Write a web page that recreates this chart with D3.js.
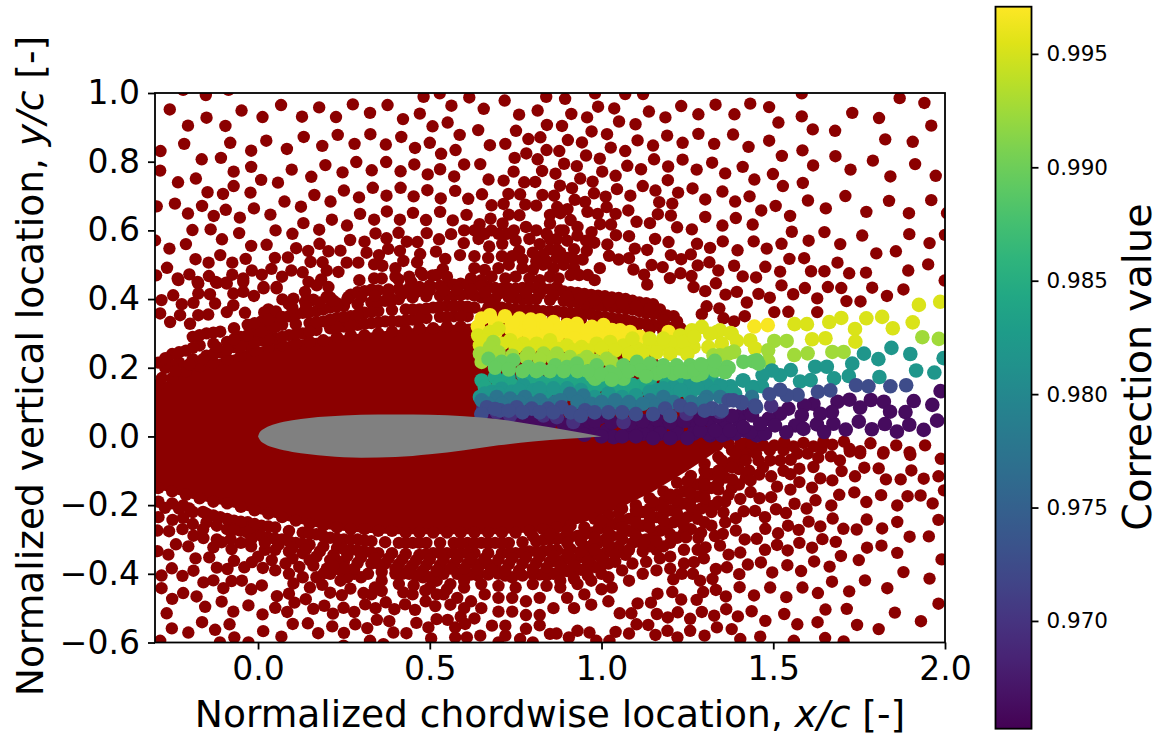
<!DOCTYPE html>
<html>
<head>
<meta charset="utf-8">
<title>Correction value around an airfoil</title>
<script src="https://d3js.org/d3.v7.min.js"></script>
<style>
body { margin: 0; background: #fff; }
text { font-family: "DejaVu Sans", sans-serif; fill: #000; }
.tick line, .domain { stroke: #000; stroke-width: 1.8px; }
</style>
</head>
<body>
<svg id="chart" width="1158" height="736"></svg>
<script>
const xTicks = [0, 0.5, 1, 1.5, 2];
const yTicks = [-0.6, -0.4, -0.2, 0, 0.2, 0.4, 0.6, 0.8, 1];
const barTicks = [0.97, 0.975, 0.98, 0.985, 0.99, 0.995];
const barDomain = [0.96525, 0.99708];

const farUpperLeft = [[-.218,1.009],[-.152,.994],[-.086,1.009],[-.257,.952],[-.150,.928],[-.204,.905],[-.095,.904],[-.048,.949],[.013,.930],[.067,.965],[.128,.931],[.178,.958],[.227,.930],[.276,.967],[.326,.942],[.377,.965],[.422,.924],[.471,.940],[.482,.989],[.529,.999],[.563,.963],[.615,.987],[.657,.954],[.718,.978],[.760,.937],[.814,.949],[.839,.989],[.508,.903],[.552,.914],[.587,.878],[.641,.892],[.751,.890],[.787,.866],[.822,.871],[.841,.907],[-.284,.831],[-.215,.852],[-.081,.855],[-.020,.832],[.024,.861],[.084,.837],[.133,.872],[.187,.846],[.232,.878],[.281,.852],[.327,.880],[.372,.850],[.417,.872],[.457,.840],[.500,.855],[.533,.823],[.575,.834],[.675,.848],[.720,.852],[.840,.834],[.747,.811],[.781,.824],[.814,.807],[-.285,.774],[-.164,.807],[-.108,.811],[-.071,.771],[-.020,.785],[.098,.777],[.155,.756],[.196,.790],[.246,.769],[.286,.799],[.331,.775],[.373,.799],[.415,.772],[.455,.792],[.494,.763],[.530,.778],[.571,.757],[.600,.792],[.647,.793],[.744,.771],[.827,.773],[-.233,.740],[-.181,.751],[-.147,.711],[-.102,.706],[-.071,.729],[-.022,.710],[.009,.747],[.058,.739],[.164,.703],[.211,.684],[.250,.716],[.294,.696],[.334,.724],[.374,.701],[.415,.724],[.453,.699],[.493,.717],[.532,.693],[.574,.715],[.612,.692],[.652,.705],[.671,.748],[.715,.745],[.775,.740],[.807,.741],[.729,.706],[.763,.705],[.828,.703],[-.295,.670],[-.242,.678],[-.204,.649],[-.163,.671],[-.129,.642],[-.094,.660],[-.053,.637],[-.012,.664],[.036,.646],[.077,.684],[.125,.669],[.297,.648],[.338,.631],[.375,.655],[.413,.631],[.451,.651],[.489,.630],[.530,.654],[.567,.629],[.607,.645],[.680,.673],[.715,.677],[.778,.675],[.810,.672],[.730,.646],[.761,.644],[.677,.634],[.645,.618],[.712,.620],[-.191,.601],[-.138,.603],[-.105,.574],[-.055,.592],[.051,.600],[.100,.590],[.132,.621],[.178,.602],[.215,.631],[.259,.614],[.342,.591],[.409,.593],[.374,.577],[.491,.592],[.562,.589],[.527,.574],[.433,.567],[.464,.566],[.268,.572],[.310,.567],[.179,.561],[.111,.548],[.025,.558],[-.020,.555],[-.210,.560],[-.258,.547],[-.300,.571],[.599,.563],[.642,.575],[.673,.553],[.711,.561],[.724,.590],[-.182,.516],[-.144,.506],[-.110,.528],[-.075,.506],[-.036,.517],[.049,.520],[.087,.521],[.146,.540],[.205,.539],[.240,.541],[.316,.535],[.379,.546],[.413,.540],[.352,.528],[.518,.538],[.472,.531],[.545,.517],[.588,.528],[-.265,.491],[-.200,.472],[-.234,.460],[-.143,.467],[-.075,.471],[-.018,.483],[.039,.488],[.011,.471],[-.043,.460],[.097,.483],[.130,.478],[.070,.465],[.153,.508],[.188,.507],[.200,.483],[.234,.479],[.258,.506],[.292,.506],[.338,.501],[.362,.497],[.400,.490],[.423,.511],[.463,.507],[.474,.477],[.508,.469],[.538,.487],[-.297,.469],[-.176,.450],[-.123,.450],[-.093,.448],[.016,.435],[.054,.435],[.147,.450],[.184,.457],[.295,.455],[.338,.460],[.409,.457],[.446,.450]];

const farUpperRight = [[.894,.983],[.981,.999],[1.069,.997],[1.121,.997],[1.583,.999],[1.868,.985],[1.940,.971],[.990,.960],[1.037,.955],[.912,.939],[.958,.929],[1.138,.946],[1.232,.962],[1.186,.929],[1.282,.938],[1.332,.966],[1.387,.938],[1.433,.969],[1.488,.959],[1.515,.914],[1.583,.932],[1.730,.942],[1.808,.927],[1.051,.917],[1.099,.909],[.885,.904],[.971,.888],[1.016,.880],[1.191,.876],[1.282,.881],[1.383,.879],[1.615,.894],[1.680,.890],[1.960,.905],[.902,.863],[.943,.856],[1.105,.862],[1.150,.847],[1.236,.855],[1.328,.852],[1.428,.843],[1.488,.861],[1.826,.865],[1.906,.858],[.877,.831],[1.027,.841],[1.069,.831],[.955,.818],[.995,.809],[1.153,.807],[1.236,.806],[1.525,.817],[1.585,.833],[1.681,.816],[1.790,.803],[.891,.794],[.928,.787],[1.075,.788],[1.115,.778],[1.194,.786],[1.277,.777],[1.322,.797],[1.411,.785],[1.360,.766],[1.499,.764],[1.616,.789],[1.725,.777],[1.913,.793],[.866,.765],[1.002,.771],[1.041,.759],[.938,.751],[.974,.742],[1.193,.746],[1.445,.748],[1.841,.757],[1.973,.759],[.879,.730],[.914,.723],[1.120,.729],[1.045,.720],[1.157,.716],[1.265,.722],[1.223,.710],[1.352,.713],[1.528,.729],[1.586,.738],[.978,.708],[.862,.701],[1.012,.698],[1.084,.701],[1.431,.699],[1.389,.684],[1.302,.690],[1.710,.700],[1.601,.687],[1.837,.686],[1.960,.688],[.922,.689],[.952,.683],[1.168,.682],[1.206,.678],[.871,.668],[.901,.662],[1.015,.668],[1.078,.658],[1.465,.658],[1.507,.671],[1.653,.664],[1.771,.654],[1.895,.650],[2.006,.650],[1.164,.647],[1.202,.643],[1.041,.648],[1.302,.639],[1.391,.636],[1.549,.642],[.959,.654],[.989,.648],[1.102,.625],[1.141,.621],[1.028,.617],[.996,.618],[1.352,.614],[1.440,.617],[1.220,.609],[1.263,.603],[1.554,.596],[1.649,.595],[1.759,.585],[1.896,.589],[2.000,.587],[1.042,.586],[1.080,.583],[.971,.595],[1.156,.575],[1.195,.566],[1.278,.561],[1.353,.568],[1.443,.568],[1.524,.561],[1.603,.570],[1.695,.560],[1.955,.563],[.979,.564],[1.017,.559],[1.097,.547],[1.133,.543],[1.316,.549],[1.396,.542],[1.481,.547],[1.800,.533],[1.857,.539],[.957,.540],[1.202,.528],[1.260,.530],[1.232,.516],[1.022,.526],[1.050,.515],[1.080,.519],[1.314,.507],[1.547,.517],[1.590,.519],[1.687,.506],[1.951,.501],[1.146,.499],[1.178,.493],[1.280,.498],[1.386,.497],[1.477,.494],[1.610,.481],[1.649,.481],[1.520,.480],[1.721,.475],[1.770,.477],[1.893,.483],[1.093,.486],[1.340,.483],[1.411,.466],[1.450,.463],[1.124,.471],[1.199,.461],[1.230,.475],[1.262,.467],[1.999,.454],[1.133,.442],[1.268,.435],[1.333,.446],[1.524,.440],[1.592,.432],[1.659,.435],[1.698,.432],[1.788,.433],[1.879,.428],
[1.302,.423],[1.361,.413],[1.394,.421],[1.423,.390],[1.457,.415],[1.490,.404],[1.558,.414],[1.628,.402],[1.713,.394],[1.754,.393],[1.831,.409],[1.306,.379],[1.343,.373],[1.355,.344],[1.386,.335],[1.417,.350],[1.503,.362],[1.544,.363],[1.628,.362],[1.292,.356]];

// estimated: these merge into each other, so only their rough spacing can be read
const bandUpper = [[-.29,.15],[-.25,.17],[-.21,.19],[-.17,.205],[-.13,.215],[-.09,.225],[-.05,.235],[-.01,.25],[.03,.26],[.07,.265],[.11,.27],[.15,.275],[.19,.28],[.23,.29],[.27,.295],[.31,.295],[.35,.3],[.39,.305],[.43,.31],[.47,.315],[.51,.315],[.55,.32],[.59,.32],
[-.27,.2],[-.23,.215],[-.15,.235],[-.11,.245],[-.07,.26],[-.03,.265],[.01,.28],[.05,.285],[.09,.295],[.13,.3],[.17,.31],[.25,.32],[.29,.325],[.33,.33],[.37,.335],[.41,.335],[.45,.34],[.49,.345],[.57,.35],[.61,.35],
[-.29,.215],[-.25,.24],[-.21,.25],[-.17,.265],[-.09,.275],[-.05,.29],[-.01,.3],[.03,.31],[.07,.325],[.15,.33],[.19,.335],[.23,.345],[.27,.35],[.31,.36],[.35,.365],[.43,.37],[.47,.37],[.51,.375],[.55,.38],[.59,.38],[.63,.375],
[-.19,.29],[-.15,.3],[-.11,.305],[-.03,.325],[.01,.335],[.05,.345],[.09,.35],[.13,.36],[.17,.365],[.21,.375],[.25,.38],[.33,.39],[.37,.395],[.41,.4],[.45,.405],[.53,.41],[.57,.41],[.61,.415],[.65,.405],[.69,.4],
[.67,.375],[.71,.375],[.75,.37],[.79,.37],[.83,.365],[.87,.365],[.91,.36],[.95,.36],[.99,.35],[1.03,.345],[1.07,.34],[1.11,.33],[1.15,.325],[1.19,.32],[1.23,.315],[.73,.405],[.77,.4],[.81,.4],[.89,.395],[.93,.39],[.97,.385],[1.01,.38],[1.05,.375],[1.09,.37],[1.13,.36],[1.17,.355],[1.21,.35],[.71,.43],[.75,.43],[.79,.435],[.83,.43],[.87,.425],[.91,.42],[.95,.415],[.99,.41],[1.03,.405],[1.07,.4],[1.11,.39],[1.15,.385],[.67,.435],[.63,.44],[.59,.445],[.55,.44],[.47,.435],[.41,.43],[.35,.425],[.29,.42],[.21,.405],[.15,.395],[.09,.385],[.03,.37],
[-.232,.455],[-.174,.445],[-.120,.447],[-.091,.445],[-.043,.450],[.016,.431],[.054,.431],[.137,.421],[.171,.440],[.205,.435],[-.247,.411],[-.281,.397],[-.222,.385],[-.188,.389],[-.174,.416],[-.140,.414],[-.125,.387],[-.072,.416],[-.043,.421],[-.012,.409],[.071,.399],[.103,.401],[.137,.392],[.161,.398],[.200,.406],[.231,.387],[.263,.406],[-.285,.358],[-.256,.333],[-.198,.328],[-.227,.353],[-.174,.353],[-.145,.355],[-.091,.362],[-.038,.360],[-.072,.382],[.018,.361],[.052,.364],[.103,.353],[.142,.362],
[.85,.62],[.88,.6],[.91,.63],[.87,.575],[.9,.57],[.93,.585],[.85,.545],[.88,.535],[.92,.545],[.955,.57],[.86,.49],[.89,.5],[.92,.49],[.945,.515],[.85,.465],[.875,.46],[.91,.47],[.935,.47],[.96,.47],[.98,.455],[.995,.49],[.87,.435],
[.63,.49],[.66,.485],[.70,.49],[.73,.5],[.77,.49],[.80,.485],[.83,.5],[.62,.46],[.65,.455],[.68,.465],[.72,.46],[.75,.465],[.79,.46],[.82,.455],[.55,.465],[.52,.47],[.48,.47],[.44,.465],[.40,.465],[.36,.46]];

const bandUpperFill = [[-.19,.225],[.21,.315],[.53,.348],[-.25,.207],[-.13,.24],[-.09,.252],[-.05,.262],[-.01,.272],[.03,.283],[.07,.29],[.11,.298],[.15,.305],[.23,.318],[.27,.322],[.31,.328],[.35,.332],[.39,.335],[.43,.338],[.47,.343],[.55,.348],[.59,.35],
[-.27,.228],[-.23,.245],[-.19,.258],[-.13,.27],[-.07,.283],[-.03,.295],[.01,.305],[.05,.318],[.11,.327],[.17,.333],[.21,.34],[.25,.348],[.29,.355],[.33,.362],[.39,.368],[.45,.37],[.49,.372],[.53,.378],[.57,.38],[.61,.378],
[-.17,.295],[-.13,.302],[-.07,.315],[-.01,.33],[.03,.34],[.07,.348],[.11,.355],[.15,.362],[.19,.37],[.23,.378],[.29,.385],[.35,.392],[.39,.398],[.49,.408],[.55,.41],[.59,.412],[.63,.41],[.67,.402],
[.27,.413],[.31,.423],[.33,.427],[.38,.428],[.44,.432],[.5,.44],[.53,.438],[.57,.442],[.61,.442],[.65,.438],[.69,.432],[.73,.43],[.77,.432],[.81,.432],[.85,.428],[.89,.422],[.93,.418],[.97,.412],[1.01,.408],[1.05,.403],[1.09,.395],[1.13,.388],[1.17,.37],
[.69,.375],[.73,.372],[.77,.37],[.81,.368],[.85,.365],[.89,.362],[.93,.36],[.97,.355],[1.01,.348],[1.05,.342],[1.09,.335],[1.13,.328],[1.17,.322],[1.21,.318],[.75,.402],[.79,.4],[.85,.398],[.91,.392],[.95,.388],[.99,.382],[1.03,.378],[1.07,.372],[1.11,.365],[1.15,.358],[1.19,.352],
[.66,.36],[.7,.355],[.74,.35],[.78,.35],[.82,.345],[.86,.345],[.9,.34],[.94,.34],[.98,.335],[1.02,.33],[1.06,.325],[1.1,.315],[1.14,.31],[1.18,.305],
[.745,.6],[.78,.61],[.81,.6],[.84,.59],[.75,.57],[.79,.575],[.82,.56],[.85,.575],[.76,.54],[.8,.535],[.83,.53],[.74,.525],[.71,.525],[.67,.52],[.63,.525],[.7,.59],[.68,.6],[.66,.59],[.63,.6],[.6,.6],[.77,.515],[.84,.51],[.81,.51],[.87,.52],[.9,.52],[.92,.515],[.87,.545],[.89,.6],[.93,.61],[.85,.645],[.88,.65],
[.1,.375],[.14,.38],[.18,.39],[.22,.395],[.26,.4],[.3,.405],[.34,.41],[.38,.415],[.42,.415],[.46,.42],[.5,.425],[.54,.425],[.58,.428],[.62,.428],[.66,.42],[.7,.415],[.74,.418],[.78,.418],[.82,.415],[.86,.41],[.9,.408],[.94,.402],[.98,.398],[1.02,.392],[1.06,.388],[1.1,.38],[1.14,.372],[1.18,.338],[1.22,.335],[1.26,.3],[1.22,.3],
[-.28,.17],[-.24,.19],[-.2,.21],[-.16,.225],[-.12,.26]];

const bandLower = [[-.29,-.15],[-.25,-.16],[-.21,-.17],[-.17,-.18],[-.13,-.19],[-.09,-.195],[-.05,-.205],[-.01,-.215],[.03,-.225],[.07,-.235],[.11,-.245],[.15,-.255],[.19,-.26],[.23,-.265],[.27,-.27],[.31,-.27],[.35,-.275],[.39,-.275],[.43,-.28],[.47,-.28],[.51,-.28],[.55,-.28],[.59,-.28],[.63,-.28],[.67,-.28],[.71,-.28],[.75,-.28],[.79,-.275],[.83,-.27],[.87,-.265],[.91,-.26],
[-.23,-.21],[-.15,-.225],[-.11,-.235],[-.07,-.245],[-.03,-.25],[.01,-.26],[.05,-.265],[.13,-.28],[.17,-.285],[.21,-.295],[.25,-.3],[.29,-.3],[.33,-.305],[.41,-.31],[.45,-.31],[.49,-.31],[.57,-.31],[.61,-.31],[.65,-.31],[.69,-.31],[.73,-.31],[.81,-.305],[.85,-.3],[.89,-.295],[.93,-.29],[.97,-.28],
[-.09,-.27],[-.05,-.275],[-.01,-.285],[.03,-.295],[.07,-.3],[.11,-.31],[.15,-.315],[.23,-.325],[.27,-.33],[.31,-.335],[.35,-.34],[.39,-.34],[.47,-.345],[.51,-.34],[.55,-.34],[.59,-.34],[.63,-.34],[.71,-.34],[.75,-.34],[.79,-.335],[.83,-.335],[.87,-.33],[.95,-.325],[.99,-.31],[1.03,-.29],
[.05,-.33],[.13,-.34],[.21,-.36],[.25,-.365],[.33,-.37],[.37,-.37],[.45,-.375],[.53,-.375],[.61,-.37],[.65,-.37],[.69,-.375],[.77,-.37],[.85,-.365],[.89,-.36],[.93,-.355],[.97,-.35],[1.01,-.34],[1.05,-.32],
[.6,-.40],[.64,-.405],[.7,-.4],[.74,-.41],[.8,-.4],[.84,-.405],[.88,-.395],[.92,-.39],[.96,-.385],[1.0,-.375],[1.04,-.365],[1.07,-.345],
[.98,-.24],[1.02,-.23],[1.06,-.21],[1.1,-.2],[1.14,-.18],[1.18,-.16],[1.22,-.135],[1.26,-.115],[1.3,-.08],[1.34,-.06],[1.38,-.04],[1.42,-.02],
[1.0,-.265],[1.04,-.255],[1.08,-.24],[1.12,-.22],[1.16,-.2],[1.2,-.18],[1.24,-.16],[1.28,-.14],[1.32,-.11],[1.36,-.09],[1.4,-.06],[1.44,-.035],
[1.06,-.28],[1.1,-.27],[1.14,-.245],[1.18,-.225],[1.22,-.205],[1.26,-.185],[1.3,-.16],[1.34,-.135],[1.09,-.31],[1.13,-.3],[1.17,-.275],[1.21,-.25],[1.25,-.235],[1.29,-.21],[1.12,-.335],[1.16,-.33],[1.2,-.31],[1.24,-.28],
[.88,-.44],[.93,-.43],[.97,-.42],[1.02,-.41],[1.06,-.39],[1.09,-.37],[1.13,-.365],[1.17,-.355],[.9,-.47],[.95,-.46],[1.0,-.445],[1.03,-.44],[1.08,-.42],[1.12,-.4],[1.16,-.39],[.86,-.5],[.92,-.5],[.97,-.49],[1.02,-.48],
[.54,-.46],[.58,-.47],[.62,-.48],[.56,-.43],[.6,-.44],[.66,-.46],[.7,-.47],[.74,-.47],[.78,-.48],[.82,-.47],[.65,-.5],[.7,-.51],[.74,-.51],[.78,-.52],[.82,-.52],[.63,-.53],[.52,-.42],[.48,-.41],[.44,-.4],[.4,-.4],[.36,-.42],[.34,-.44],[.3,-.41],[.28,-.4],[.24,-.42],[.78,-.56],[.82,-.55],[.85,-.575],[.8,-.6]];

const bandLowerFill = [[-.19,-.22],[-.13,-.23],[-.09,-.24],[-.05,-.248],[-.01,-.255],[.03,-.262],[.09,-.275],[.15,-.283],[.19,-.29],[.23,-.298],[.27,-.3],[.31,-.303],[.37,-.308],[.43,-.31],[.47,-.31],[.53,-.31],[.59,-.31],[.63,-.31],[.67,-.31],[.71,-.31],[.77,-.308],[.83,-.302],[.87,-.298],[.91,-.292],[.95,-.285],[.99,-.27],
[-.07,-.272],[-.03,-.28],[.01,-.29],[.05,-.298],[.09,-.305],[.13,-.312],[.19,-.32],[.25,-.328],[.29,-.332],[.33,-.338],[.43,-.342],[.49,-.342],[.53,-.34],[.57,-.34],[.61,-.34],[.67,-.34],[.73,-.34],[.77,-.338],[.81,-.335],[.85,-.332],[.91,-.328],[.97,-.318],[1.01,-.3],
[.09,-.335],[.17,-.35],[.23,-.362],[.29,-.368],[.35,-.37],[.41,-.372],[.49,-.375],[.57,-.372],[.63,-.37],[.67,-.372],[.73,-.372],[.81,-.368],[.87,-.362],[.91,-.358],[.95,-.352],[.99,-.345],[1.03,-.33],
[.32,-.40],[.36,-.395],[.42,-.4],[.46,-.405],[.5,-.41],[.54,-.4],[.58,-.4],[.62,-.402],[.67,-.402],[.72,-.405],[.77,-.405],[.82,-.402],[.86,-.4],[.9,-.392],[.94,-.388],[.98,-.38],[1.02,-.37],
[1.02,-.26],[1.06,-.25],[1.1,-.23],[1.14,-.21],[1.18,-.19],[1.22,-.17],[1.26,-.15],[1.3,-.125],[1.34,-.1],[1.38,-.075],[1.42,-.05],[1.08,-.275],[1.12,-.26],[1.16,-.235],[1.2,-.215],[1.24,-.195],[1.28,-.175],[1.32,-.15],[1.36,-.12],[1.4,-.095],[1.11,-.3],[1.15,-.29],[1.19,-.265],[1.23,-.24],[1.27,-.225],[1.31,-.2],[1.14,-.32],[1.18,-.32],[1.22,-.295],[1.26,-.27],[1.3,-.25],[1.34,-.19],[1.38,-.15],[1.42,-.12],
[1.39,-.07],[1.43,-.1],[1.4,-.14],[1.37,-.17],[1.33,-.2],[1.36,-.25],[1.32,-.26],[1.29,-.28],[1.33,-.29],[1.28,-.33],[1.24,-.33],[1.2,-.35],[1.24,-.37],[1.2,-.385],[1.45,-.05],[1.49,-.04],[1.53,-.04],[1.57,-.05],[1.6,-.05],[1.64,-.035],[1.41,-.05],[1.47,-.09],[1.53,-.1],[1.55,-.11],
[-.29,-.19],[-.25,-.195],[-.2,-.21],[-.16,-.22],[-.12,-.26],[-.15,-.25],[-.19,-.255],[-.22,-.27],[-.29,-.235],[-.16,-.27],[-.12,-.3],[-.08,-.3],[-.05,-.31],[-.02,-.32],[.02,-.33],[0,-.35],[.04,-.36],[.08,-.37],[.12,-.38],[.1,-.355],[.15,-.36],[.05,-.39],[.09,-.4],[.13,-.41],[.17,-.41],[.21,-.4],[.26,-.41],[.33,-.46],[.36,-.45],[.41,-.43],[.45,-.46],[.5,-.44],[.52,-.46],[.56,-.49],[.6,-.5],[.59,-.525],
[.9,-.31],[.94,-.305],[.98,-.295],[1.02,-.28],[1.06,-.265],[1.1,-.25],[1.14,-.228],[1.18,-.205],[1.22,-.185],[1.26,-.165],[1.3,-.14],[1.34,-.115],[1.38,-.09],[1.42,-.07],[.9,-.34],[.94,-.335],[.98,-.33],[1.02,-.315],[1.06,-.3],[1.1,-.29],[1.14,-.265],[1.18,-.245],[1.22,-.225],[1.26,-.205],[1.3,-.18],[1.34,-.155],[1.38,-.125],[.92,-.375],[.96,-.365],[1.0,-.355],[1.04,-.345],[1.08,-.33],[1.12,-.315],[1.16,-.305],[1.2,-.285],[1.24,-.26],[1.28,-.24],[1.32,-.22],[1.36,-.19],[.8,-.29],[.85,-.285],[.9,-.275],[.95,-.265],[1.0,-.245],[1.05,-.225],[1.1,-.215],[1.15,-.19],[1.2,-.17],[1.25,-.13],[1.3,-.1],[1.35,-.07],[1.39,-.05],
[-.02,-.3],[.02,-.31],[.06,-.315],[.1,-.325],[.14,-.328],[.18,-.335],[.22,-.345],[.26,-.348],[.3,-.352],[.34,-.355],[.38,-.355],[.42,-.358],[.46,-.36],[.5,-.358],[.54,-.358],[.58,-.355],[.62,-.355],[.66,-.355],[.7,-.358],[.74,-.355],[.78,-.353],[.82,-.35],[.86,-.348],[.2,-.385],[.24,-.39],[.28,-.385],[.4,-.385],[.44,-.388],[.48,-.39],[.52,-.39],[.56,-.385],[.6,-.385],[.64,-.388],[.68,-.388],[.72,-.39],[.76,-.39],[.8,-.385],[.84,-.382],[.88,-.378],[.55,-.445],[.6,-.42],[.65,-.43],[.7,-.435],[.75,-.44],[.8,-.43],[.84,-.435],[.88,-.42],[.92,-.415],[.96,-.405],[1.0,-.4]];

const farLowerLeft = [[-.285,-.595],[-.251,-.559],[-.203,-.571],[-.266,-.515],[-.154,-.496],[-.179,-.466],[-.218,-.456],[-.250,-.473],[-.281,-.442],[-.220,-.406],[-.188,-.391],[-.251,-.384],[-.261,-.344],[-.281,-.405],[-.239,-.314],[-.203,-.320],[-.293,-.334],[-.182,-.355],[-.142,-.352],[-.120,-.382],[-.089,-.386],[-.159,-.425],[-.130,-.419],[-.101,-.442],[-.077,-.421],[-.047,-.420],[-.106,-.481],[-.072,-.510],[-.028,-.492],[-.020,-.445],[-.163,-.541],[-.125,-.563],[-.083,-.547],[-.111,-.600],[-.069,-.585],[-.028,-.600],[.013,-.518],[.015,-.567],[.050,-.499],[.085,-.511],[.101,-.546],[.145,-.544],[.068,-.583],[.175,-.573],[.106,-.484],[.055,-.465],[.090,-.458],[.139,-.474],[.161,-.502],[.193,-.493],[.218,-.516],[.249,-.499],[.280,-.511],[.216,-.553],[.283,-.547],[.250,-.572],[.318,-.558],[.346,-.534],[.382,-.538],[.394,-.571],[.432,-.573],[.461,-.543],[.457,-.505],[.428,-.489],[.397,-.503],[.342,-.500],[.312,-.489],[.372,-.483],[.307,-.456],[.244,-.462],[.210,-.455],[.151,-.440],[.187,-.432],[.269,-.443],[.103,-.428],[-.040,-.381],[-.070,-.362],[-.018,-.366],[.014,-.383],[.011,-.434],[.192,-.398],[.252,-.383],[.219,-.376],[.161,-.376],[-.271,-.208],[-.218,-.201],[-.249,-.243],[-.218,-.237],[-.259,-.276],[-.293,-.274],[-.188,-.289],[-.159,-.296],[-.130,-.323],[-.106,-.308],[-.077,-.328],[.496,-.556],[.504,-.588],[.520,-.532],[.552,-.534],[.574,-.556],[.574,-.585],[.488,-.480],[.516,-.494],[.603,-.546],[.608,-.585],[.647,-.580],[.681,-.551],[.720,-.551],[.763,-.590],[.720,-.580],[.700,-.600],[.249,-.609],[.326,-.595],[.365,-.605],[.487,-.449],[.453,-.434],[.423,-.454]];

const farLowerRight = [[.869,-.574],[.905,-.585],[.930,-.566],[.965,-.571],[.985,-.595],[1.023,-.595],[1.041,-.569],[1.080,-.574],[1.102,-.547],[1.136,-.549],[1.157,-.578],[1.192,-.566],[1.221,-.585],[1.258,-.566],[1.300,-.580],[1.336,-.556],[1.379,-.561],[1.404,-.590],[1.462,-.583],[1.560,-.595],[1.651,-.587],[1.705,-.597],[1.053,-.515],[1.087,-.515],[1.161,-.517],[1.193,-.527],[1.222,-.512],[1.258,-.531],[1.292,-.511],[1.328,-.522],[1.363,-.503],[1.397,-.524],[1.437,-.509],[1.477,-.537],[1.532,-.517],[1.570,-.547],[1.629,-.541],[1.652,-.504],[1.714,-.502],[1.744,-.549],[1.807,-.561],[1.854,-.513],[1.930,-.538],[1.981,-.487],[1.105,-.486],[1.144,-.484],[1.163,-.458],[1.206,-.453],[1.232,-.475],[1.277,-.476],[1.296,-.453],[1.333,-.447],[1.362,-.466],[1.402,-.439],[1.444,-.463],[1.491,-.440],[1.538,-.468],[1.585,-.440],[1.630,-.456],[1.721,-.451],[1.832,-.442],[1.671,-.423],[1.767,-.419],[1.955,-.414],[1.879,-.395],[1.209,-.416],[1.234,-.400],[1.266,-.400],[1.287,-.420],[1.323,-.415],[1.333,-.386],[1.365,-.381],[1.401,-.401],[1.426,-.373],[1.464,-.367],[1.497,-.396],[1.541,-.375],[1.581,-.392],[1.619,-.364],[1.664,-.379],[1.749,-.360],[1.697,-.348],[1.990,-.358],[1.861,-.339],[1.815,-.318],[1.773,-.324],[1.269,-.366],[1.298,-.355],[1.303,-.323],[1.345,-.318],[1.370,-.344],[1.404,-.338],[1.476,-.330],[1.511,-.316],[1.542,-.332],[1.576,-.310],[1.613,-.324],[1.643,-.299],[1.682,-.307],[1.817,-.268],[1.743,-.271],[1.704,-.269],[1.897,-.292],[1.953,-.291],[1.861,-.249],[1.772,-.242],[1.673,-.239],[1.981,-.243],[1.246,-.294],[1.282,-.296],[1.353,-.284],[1.391,-.274],[1.417,-.300],[1.452,-.298],[1.477,-.269],[1.514,-.282],[1.543,-.260],[1.574,-.272],[1.637,-.262],[1.603,-.248],[1.964,-.195],[1.929,-.172],[1.891,-.174],[1.861,-.201],[1.814,-.171],[1.771,-.191],[1.736,-.163],[1.692,-.170],[1.669,-.201],[1.623,-.186],[1.597,-.210],[1.537,-.223],[1.508,-.212],[1.562,-.196],[1.391,-.238],[1.414,-.218],[1.447,-.217],[1.476,-.235],[1.494,-.177],[1.460,-.180],[1.434,-.162],[1.404,-.182],[1.355,-.221],[1.997,-.157],[1.938,-.123],[1.981,-.116],[1.871,-.125],[1.828,-.125],[1.902,-.099],[1.765,-.091],[1.807,-.093],[1.738,-.116],[1.699,-.101],[1.672,-.128],[1.637,-.122],[1.613,-.149],[1.576,-.133],[1.550,-.155],[1.511,-.146],[1.494,-.116],[1.459,-.111],[1.434,-.128],[1.576,-.094],[1.617,-.089],[1.631,-.062],[1.668,-.058],[1.694,-.070],[1.723,-.044],[1.753,-.049],[1.820,-.050],[1.899,-.054],[1.988,-.065],[1.551,-.068],[1.520,-.070],[1.491,-.070],[1.457,-.070],
[1.297,-.021],[1.336,-.026],[1.370,-.021],[1.404,-.021],[1.438,-.021],[1.471,-.026],[1.503,-.026],[1.532,-.016],[1.559,-.029],[1.588,-.019],[1.617,-.029],[1.646,-.015],[1.672,-.024],[1.706,-.015],[1.722,-.036],[1.753,-.043],[1.783,-.020],[1.821,-.046],[1.858,-.026],[1.897,-.046],[1.942,-.026]];

// the core is so crowded that single points cannot be told apart, so it is kept as an outline
const coreX = [-.3,-.2,-.1,0,.1,.2,.3,.4,.5,.64,.7,.85,.95,1.05,1.15,1.25,1.34,1.4];
const coreTop = [.14,.2,.23,.26,.28,.29,.3,.31,.32,.33,.33,.33,.32,.3,.24,.13,.03,0];
const coreBottom = [-.15,-.18,-.2,-.225,-.25,-.27,-.28,-.285,-.285,-.285,-.285,-.275,-.25,-.21,-.16,-.1,-.04,0];

// corrected points as [x, y, value]
const correctedTop = [[.651,.343],[.675,.353],[.719,.350],[.761,.343],[.794,.340],[.821,.338],[.860,.333],[.899,.324],[.928,.328],[.972,.319],[1.006,.324],[1.054,.309],[1.083,.304],[1.112,.290],[.734,.314],[.772,.314],[.811,.314],[.850,.309],[.899,.304],[.938,.304],[.976,.299],[1.015,.299],[1.195,.304],[1.445,.320],[1.484,.324],[.64,.32],[.69,.33],[.74,.33],[.79,.325],[.84,.32],[.88,.315],[.92,.315],[.96,.31],[1.03,.31],[1.07,.29],[.69,.3],[.75,.295],[.79,.295],[.83,.29],[.87,.29],[.92,.285],[.96,.28],[1.0,.285],[1.04,.285]].map(d => [...d, .9968]);
const correctedYellow = [[.641,.294],[.646,.265],[.675,.304],[.700,.314],[.734,.280],[.772,.270],[.811,.270],[.850,.280],[.899,.265],[.942,.260],[.986,.270],[1.025,.275],[1.064,.265],[1.103,.256],[1.137,.260],[1.171,.265],[1.229,.294],[1.263,.309],[1.292,.319],[1.336,.304],[1.379,.299],[1.229,.256],[1.268,.260],[1.311,.260],[1.433,.280],[1.447,.256],[1.562,.327],[1.598,.327],[1.663,.333],[1.698,.345],[1.771,.344],[1.817,.348],[1.738,.313],[1.848,.315],[1.906,.332],[1.924,.383],[1.986,.392],[1.613,.283],[1.652,.286],[1.739,.276],[1.345,.309],[1.376,.301],[1.316,.299],[1.394,.278],[1.350,.270],[.66,.28],[.71,.27],[.75,.26],[.79,.255],[.83,.26],[.87,.255],[.92,.25],[.96,.25],[1.0,.255],[1.04,.25],[1.08,.24],[1.12,.24],[1.16,.245],[1.2,.275],[1.24,.275],[1.27,.29],[1.2,.24],[1.25,.24],[1.09,.285],[1.14,.285],[1.18,.285]].map(d => [...d, .9953]);
const correctedLime = [[.646,.241],[.651,.217],[.685,.275],[.675,.260],[.787,.241],[.831,.241],[.870,.241],[.908,.231],[.957,.231],[1.015,.226],[1.384,.246],[1.326,.236],[1.503,.278],[1.539,.278],[1.561,.237],[1.600,.242],[1.672,.246],[1.705,.246],[1.934,.289],[1.982,.284],[1.485,.251],[1.486,.219],[1.386,.247],[1.345,.236],[1.370,.241],[.66,.23],[.7,.245],[.74,.235],[.78,.23],[.82,.225],[.86,.225],[.9,.215],[.94,.22],[.98,.22],[1.03,.215]].map(d => [...d, .9925]);
const correctedGreen = [[.671,.226],[.709,.217],[.743,.222],[.787,.202],[.821,.197],[.865,.207],[.899,.202],[.928,.212],[.986,.207],[.972,.178],[1.025,.188],[1.064,.207],[1.103,.217],[1.141,.212],[1.180,.207],[1.219,.207],[1.258,.207],[.981,.168],[1.064,.168],[1.112,.192],[1.161,.183],[1.209,.183],[1.277,.178],[1.316,.207],[1.365,.202],[1.413,.217],[1.452,.222],[1.248,.187],[1.442,.219],[1.370,.200],[1.331,.192],[1.318,.207],[1.292,.183],[1.457,.212],[1.360,.187],[.69,.2],[.73,.195],[.77,.19],[.81,.19],[.85,.19],[.89,.19],[.93,.19],[.96,.19],[1.0,.18],[1.04,.18],[1.08,.19],[1.13,.175],[1.18,.19],[1.23,.19],[1.27,.195],[1.29,.21],[1.33,.22],[1.03,.165]].map(d => [...d, .9895]);
const correctedTeal = [[.651,.163],[.690,.173],[.729,.173],[.772,.178],[.811,.171],[.855,.178],[.894,.183],[.933,.178],[1.117,.149],[1.069,.134],[1.020,.153],[.976,.134],[.933,.149],[.889,.153],[.850,.153],[.66,.145],[.7,.15],[.74,.15],[.79,.155],[.83,.155],[.87,.16],[.91,.165],[.95,.16],[.99,.15],[1.04,.14],[1.09,.15],[1.14,.16],[1.19,.16],[1.23,.165],[1.28,.165],[1.32,.165]].map(d => [...d, .984]);
const correctedSea = [[.646,.115],[.680,.129],[.709,.139],[.772,.149],[.802,.134],[.836,.124],[.879,.124],[1.161,.134],[1.209,.144],[1.258,.153],[1.209,.115],[1.258,.119],[1.307,.134],[1.355,.144],[1.413,.163],[1.442,.144],[1.764,.241],[1.806,.225],[1.844,.258],[1.899,.240],[1.916,.192],[1.969,.186],[1.996,.228],[1.809,.173],[1.730,.212],[1.720,.176],[1.677,.169],[1.622,.203],[1.656,.203],[1.551,.193],[1.520,.178],[1.496,.192],[1.469,.178],[1.578,.160],[1.609,.164],[1.411,.163],[1.467,.146],[1.438,.139],[1.376,.146],[1.345,.149],[1.306,.149],[1.389,.124],[.66,.125],[.7,.125],[.74,.13],[.76,.135],[.82,.14],[.86,.14],[.9,.14],[.94,.135],[.98,.115],[1.02,.125],[1.06,.115],[1.1,.12],[1.14,.13],[1.18,.14],[1.23,.135],[1.28,.14],[1.33,.13],[1.38,.13]].map(d => [...d, .982]);
const correctedBlueTeal = [[.651,.105],[.695,.115],[.734,.110],[.777,.115],[.821,.105],[.865,.100],[.908,.124],[.947,.119],[1.015,.085],[1.054,.090],[1.098,.085],[1.141,.105],[1.180,.115],[1.345,.115],[1.306,.115],[1.438,.115],[1.292,.100],[.67,.095],[.71,.095],[.76,.1],[.8,.095],[.84,.09],[.88,.105],[.93,.1],[.97,.095],[1.0,.1],[1.04,.105],[1.08,.1],[1.12,.095],[1.16,.09],[1.21,.1],[1.26,.1],[1.3,.105]].map(d => [...d, .9775]);
const correctedDark = [[.671,.066],[.787,.051],[.826,.047],[.976,.022],[1.015,.017],[.947,.037],[1.103,.027],[1.141,.027],[1.171,.027],[1.219,.022],[1.268,.037],[1.316,.047],[1.355,.042],[1.404,.061],[1.433,.066],[1.074,.008],[1.035,-.002],[1.122,.008],[1.171,.008],[1.219,.008],[1.268,.008],[1.316,.003],[1.365,.008],[1.413,.017],[1.452,.003],[.996,.056],[1.987,.132],[1.909,.103],[1.963,.092],[1.722,.107],[1.687,.101],[1.784,.106],[1.822,.101],[1.753,.084],[1.840,.072],[1.885,.071],[1.977,.046],[1.749,.043],[1.787,.021],[1.825,.036],[1.860,.014],[1.896,.034],[1.938,.019],[1.711,.020],[1.675,.037],[1.671,.071],[1.627,.035],[1.648,.013],[1.617,.095],[1.590,.090],[1.544,.081],[1.520,.066],[1.583,.061],[1.637,.066],[1.486,.051],[1.438,.061],[1.399,.047],[1.360,.042],[1.316,.047],[1.287,.051],[1.564,.032],[1.538,.012],[1.476,.008],[1.433,.012],[1.389,.008],[1.350,.003],[1.311,.008],[1.505,.032],[1.462,.037],[1.413,.027],[1.374,.017],[1.331,.017],[1.588,.022],[1.287,.017],[.7,.05],[.75,.045],[.8,.04],[.85,.04],[.89,.035],[.93,.02],[.98,.045],[1.03,.04],[1.08,.035],[1.12,.045],[1.16,.05],[1.2,.04],[1.24,.045],[1.29,.05],[1.34,.06],[1.38,.06],[1.0,0],[1.06,0],[1.1,0],[1.15,-.005],[1.2,-.005],[1.25,-.005],[.9,.015],[.95,.005]].map(d => [...d, .9662]);
const correctedPurple = [[.656,.081],[.695,.071],[.734,.061],[.831,.061],[.870,.056],[.918,.042],[1.064,.042],[1.248,.066],[1.494,.089],[1.345,.071]].map(d => [...d, .9695]);
const correctedBlue = [[.666,.085],[.705,.076],[.753,.085],[.797,.081],[.845,.081],[.884,.085],[.952,.076],[1.185,.081],[1.229,.090],[1.321,.081],[1.370,.105],[1.408,.100],[1.447,.090],[1.741,.149],[1.777,.146],[1.841,.146],[1.887,.149],[1.666,.134],[1.630,.130],[1.571,.121],[1.539,.120],[1.520,.136],[1.489,.123],[1.408,.097],[1.384,.105],[1.450,.085],[1.323,.081],[.65,.065],[.69,.08],[.73,.075],[.77,.07],[.82,.07],[.86,.07],[.91,.07],[.94,.06],[.98,.07],[1.02,.07],[1.06,.07],[1.1,.065],[1.15,.065],[1.2,.06],[1.26,.08],[1.3,.075],[1.35,.075]].map(d => [...d, .9725]);

// airfoil surface, x/c against y/c
const foilX = [0,.005,.02,.05,.1,.15,.2,.3,.4,.5,.6,.7,.8,.9,1];
const foilUpper = [0,.012,.024,.036,.047,.054,.058,.063,.064,.063,.059,.05,.035,.018,0];
const foilLower = [0,-.01,-.022,-.034,-.045,-.052,-.057,-.062,-.06,-.052,-.04,-.026,-.015,-.007,0];

const svg = d3.select("#chart");
const xScale = d3.scaleLinear().domain([-0.3, 2]).range([155, 945]);
const yScale = d3.scaleLinear().domain([-0.6, 1]).range([642.5, 93]);
const colorScale = d3.scaleSequential(d3.interpolateViridis).domain(barDomain);
const barScale = d3.scaleLinear().domain(barDomain).range([728.7, 6.7]);
const dotRadius = 6.2;
const coloredRadius = 7.3;

svg.append("clipPath").attr("id", "plotClip").append("rect")
  .attr("x", 155).attr("y", 93).attr("width", 790).attr("height", 549.5);

const plot = svg.append("g").attr("clip-path", "url(#plotClip)");

// dark red core
plot.append("path")
  .datum(coreX.map((x, i) => ({ x, top: coreTop[i], bottom: coreBottom[i] })))
  .attr("fill", "#8b0000")
  .attr("d", d3.area().x(d => xScale(d.x)).y0(d => yScale(d.bottom)).y1(d => yScale(d.top)));

const redPoints = [].concat(farUpperLeft, farUpperRight, bandUpper, bandUpperFill, bandLower, bandLowerFill, farLowerLeft, farLowerRight);
plot.append("g").selectAll("circle").data(redPoints).join("circle")
  .attr("cx", d => xScale(d[0]))
  .attr("cy", d => yScale(d[1]))
  .attr("r", dotRadius)
  .attr("fill", "#8b0000");

const coloredPoints = [].concat(correctedTop, correctedYellow, correctedLime, correctedDark, correctedPurple, correctedTeal, correctedSea, correctedBlueTeal, correctedGreen, correctedBlue);
plot.append("g").selectAll("circle").data(coloredPoints).join("circle")
  .attr("cx", d => xScale(d[0]))
  .attr("cy", d => yScale(d[1]))
  .attr("r", coloredRadius)
  .attr("fill", d => colorScale(d[2]));

// airfoil on top
plot.append("path")
  .datum(foilX.map((x, i) => ({ x, top: foilUpper[i], bottom: foilLower[i] })))
  .attr("fill", "#808080")
  .attr("d", d3.area().curve(d3.curveMonotoneX).x(d => xScale(d.x)).y0(d => yScale(d.bottom)).y1(d => yScale(d.top)));

// frame and axes
svg.append("rect").attr("x", 155).attr("y", 93).attr("width", 790).attr("height", 549.5)
  .attr("fill", "none").attr("stroke", "#000").attr("stroke-width", 1.8);

const fmt = d3.format(".1f");
const xAxis = svg.append("g").attr("transform", "translate(0,642.5)")
  .call(d3.axisBottom(xScale).tickValues(xTicks).tickFormat(d => fmt(d).replace("-", "\u2212")).tickSize(7).tickPadding(7));
const yAxis = svg.append("g").attr("transform", "translate(155,0)")
  .call(d3.axisLeft(yScale).tickValues(yTicks).tickFormat(d => fmt(d).replace("-", "\u2212")).tickSize(7).tickPadding(8));
[xAxis, yAxis].forEach(a => {
  a.select(".domain").remove();
  a.selectAll("text").style("font-family", '"DejaVu Sans"').style("font-size", "33px");
});

// axis titles
const xTitle = svg.append("text").attr("x", 550).attr("y", 727).attr("text-anchor", "middle").style("font-size", "37.6px");
xTitle.append("tspan").text("Normalized chordwise location, ");
xTitle.append("tspan").attr("font-style", "italic").text("x/c");
xTitle.append("tspan").text(" [-]");

const yTitle = svg.append("text").attr("transform", "translate(43,366) rotate(-90)").attr("text-anchor", "middle").style("font-size", "37.6px");
yTitle.append("tspan").text("Normalized vertical location, ");
yTitle.append("tspan").attr("font-style", "italic").text("y/c");
yTitle.append("tspan").text(" [-]");

// colorbar
const defs = svg.append("defs");
const grad = defs.append("linearGradient").attr("id", "barGrad").attr("x1", 0).attr("y1", 1).attr("x2", 0).attr("y2", 0);
d3.range(0, 1.0001, 0.05).forEach(t => {
  grad.append("stop").attr("offset", t).attr("stop-color", d3.interpolateViridis(t));
});
svg.append("rect")
  .attr("x", 995.5).attr("y", barScale(barDomain[1])).attr("width", 36)
  .attr("height", barScale(barDomain[0]) - barScale(barDomain[1]))
  .attr("fill", "url(#barGrad)").attr("stroke", "#000").attr("stroke-width", 1.8);
const barAxis = svg.append("g").attr("transform", "translate(1031.5,0)")
  .call(d3.axisRight(barScale).tickValues(barTicks).tickFormat(d3.format(".3f")).tickSize(7).tickPadding(8));
barAxis.select(".domain").remove();
barAxis.selectAll("text").style("font-family", '"DejaVu Sans"').style("font-size", "21.5px");

svg.append("text").attr("transform", "translate(1151,367) rotate(-90)").attr("text-anchor", "middle")
  .style("font-size", "39.8px").text("Correction value");
</script>
</body>
</html>
